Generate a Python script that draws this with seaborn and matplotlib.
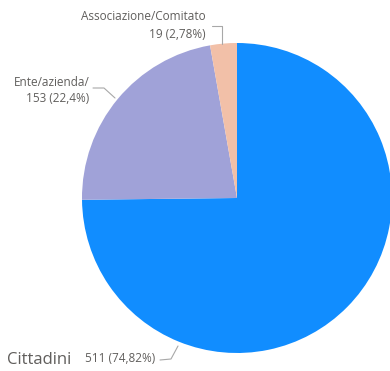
import matplotlib
matplotlib.use("Agg")
import matplotlib.pyplot as plt
import seaborn as sns

categories = ["Cittadini", "Ente/azienda/", "Associazione/Comitato"]
values = [511, 153, 19]
pct_labels = ["511 (74,82%)", "153 (22,4%)", "19 (2,78%)"]
colors = ["#118DFF", "#A0A2D8", "#F2C0A8"]

sns.set_theme(style="white")
plt.rcParams['font.family'] = ['Open Sans', 'DejaVu Sans']

W, H = 390, 371
fig = plt.figure(figsize=(W / 100, H / 100), dpi=100)
ax = fig.add_axes([0, 0, 1, 1])

# pie drawn in pixel coordinates (y inverted -> counterclock=True renders clockwise)
cx, cy, r = 237, 198, 155
ax.pie(values, colors=colors, startangle=-90, counterclock=True,
       center=(cx, cy), radius=r, frame=True,
       wedgeprops=dict(linewidth=0))
ax.set_xlim(0, W)
ax.set_ylim(H, 0)
ax.set_aspect("equal")
ax.axis("off")

tc = "#605E5C"
lc = "#A8A8A8"
fs = 8.5
# Associazione/Comitato
ax.text(206, 17, categories[2], ha="right", va="center", fontsize=fs, color=tc)
ax.text(206, 35, pct_labels[2], ha="right", va="center", fontsize=fs, color=tc)
ax.plot([212, 222, 222], [26, 26, 44], color=lc, lw=0.8)
# Ente/azienda/
ax.text(90, 82, categories[1], ha="right", va="center", fontsize=fs, color=tc)
ax.text(89, 98, pct_labels[1], ha="right", va="center", fontsize=fs, color=tc)
ax.plot([93, 104, 115], [88, 88, 98], color=lc, lw=0.8)
# Cittadini
ax.text(7, 360, categories[0], ha="left", va="center", fontsize=12, color=tc)
ax.text(85, 358, pct_labels[0], ha="left", va="center", fontsize=fs, color=tc)
ax.plot([160, 171, 178], [360, 359, 346], color=lc, lw=0.8)

fig.savefig("out.png", dpi=100, facecolor="white")
